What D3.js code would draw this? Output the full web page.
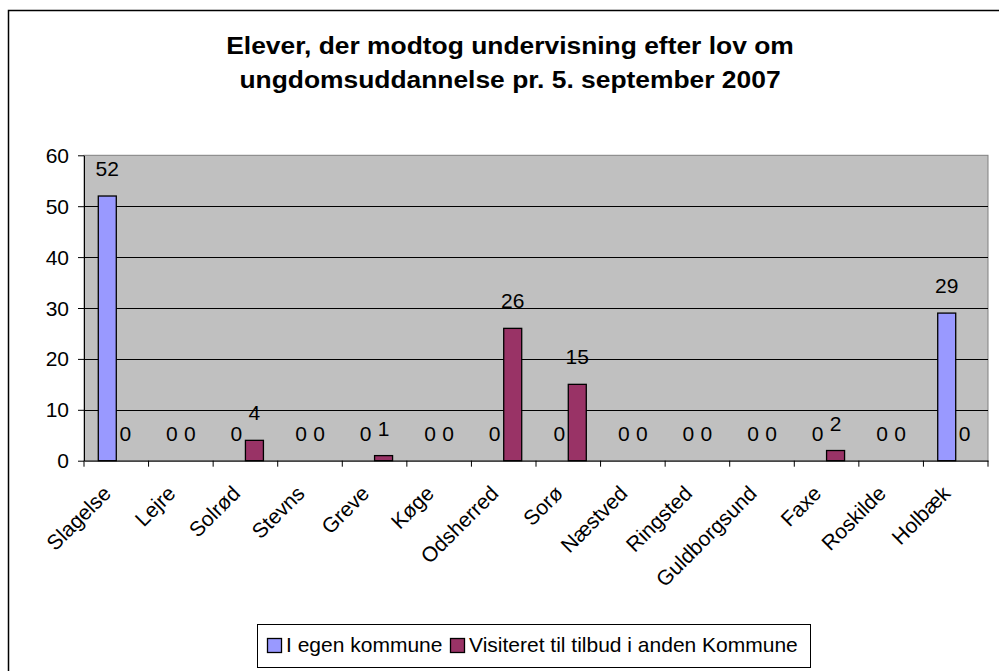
<!DOCTYPE html>
<html>
<head>
<meta charset="utf-8">
<script src="https://cdn.jsdelivr.net/npm/d3@7"></script>
<style>
  html, body { margin: 0; padding: 0; background: #fff; }
  svg { display: block; }
  text { font-family: "Liberation Sans", Arial, sans-serif; fill: #000; }
</style>
</head>
<body>
<svg id="chart" width="999" height="671"></svg>
<script>
// Kommuner langs x-aksen
const categories = ["Slagelse", "Lejre", "Solrød", "Stevns", "Greve", "Køge", "Odsherred",
  "Sorø", "Næstved", "Ringsted", "Guldborgsund", "Faxe", "Roskilde", "Holbæk"];

// Serienavne (forklaring)
const seriesNames = ["I egen kommune", "Visiteret til tilbud i anden Kommune"];

// Antal elever pr. kommune
const egenKommune  = [52, 0, 0, 0, 0, 0, 0, 0, 0, 0, 0, 0, 0, 29];
const andenKommune = [0, 0, 4, 0, 1, 0, 26, 15, 0, 0, 0, 2, 0, 0];

const yTicks = [0, 10, 20, 30, 40, 50, 60];

const titleLines = ["Elever, der modtog undervisning efter lov om",
  "ungdomsuddannelse pr. 5. september 2007"];

const colors = ["#9999FF", "#993366"];

const FS = 21;           // normal skriftstørrelse

const svg = d3.select("#chart");

// Ydre ramme om diagrammet
svg.append("rect")
  .attr("x", 8.5).attr("y", 10.5)
  .attr("width", 1000).attr("height", 700)
  .attr("fill", "#fff").attr("stroke", "#000").attr("stroke-width", 1.5);

function addText(g, str, x, y, opts = {}) {
  const sx = opts.sx || 1;
  const t = g.append("text")
    .attr("transform", `translate(${x},${y}) scale(${sx},1)` + (opts.rotate ? ` rotate(${opts.rotate})` : ""))
    .attr("font-size", opts.size || FS)
    .attr("text-anchor", opts.anchor || "start")
    .text(str);
  if (opts.bold) t.attr("font-weight", "bold");
  return t;
}

// Titel
titleLines.forEach((line, i) => {
  addText(svg, line, 510, 54 + i * 33.5, { size: 24, bold: true, anchor: "middle", sx: 1.1 });
});

// Plotområde
const plot = { left: 84, right: 988, top: 155.3, bottom: 460.7 };

const x = d3.scaleBand().domain(categories).range([plot.left, plot.right]).paddingInner(0).paddingOuter(0);
const xs = d3.scaleBand().domain(seriesNames).range([0, x.bandwidth()]).paddingInner(0).paddingOuter(0.794);
const y = d3.scaleLinear().domain([0, 60]).range([plot.bottom, plot.top]);

svg.append("rect")
  .attr("x", plot.left).attr("y", plot.top)
  .attr("width", plot.right - plot.left).attr("height", plot.bottom - plot.top)
  .attr("fill", "#C0C0C0").attr("stroke", "#808080").attr("stroke-width", 1);

// Gitterlinjer
svg.append("g")
  .selectAll("line")
  .data(yTicks.filter(v => v > 0 && v < 60))
  .join("line")
  .attr("x1", plot.left).attr("x2", plot.right)
  .attr("y1", d => Math.round(y(d)) + 0.5).attr("y2", d => Math.round(y(d)) + 0.5)
  .attr("stroke", "#000").attr("stroke-width", 1);

// Søjler
const data = [egenKommune, andenKommune];
const barG = svg.append("g");
data.forEach((vals, si) => {
  barG.selectAll(null)
    .data(vals.map((v, i) => ({ v, c: categories[i] })))
    .join("rect")
    .attr("x", d => x(d.c) + xs(seriesNames[si]))
    .attr("y", d => y(d.v))
    .attr("width", xs.bandwidth())
    .attr("height", d => y(0) - y(d.v))
    .attr("fill", colors[si])
    .attr("stroke", "#000").attr("stroke-width", 1.3);
});

// Dataetiketter
const labG = svg.append("g");
data.forEach((vals, si) => {
  vals.forEach((v, i) => {
    addText(labG, String(v), x(categories[i]) + xs(seriesNames[si]) + xs.bandwidth() / 2, y(v) - 20,
      { anchor: "middle" });
  });
});

// Y-akse
const yAxis = d3.axisLeft(y).tickValues(yTicks).tickSize(6).tickPadding(8).tickSizeOuter(0);
const yg = svg.append("g").attr("transform", `translate(${plot.left},0)`).call(yAxis);
yg.select(".domain").attr("stroke", "#000");
yg.selectAll(".tick line").attr("stroke", "#000");
yg.selectAll(".tick text").remove();
yTicks.forEach(v => addText(yg, String(v), -15, y(v) + 7.5, { anchor: "end" }));

// X-akse
const xAxis = d3.axisBottom(x).tickSize(0).tickSizeOuter(0).tickFormat("");
const xg = svg.append("g").attr("transform", `translate(0,${plot.bottom})`).call(xAxis);
xg.select(".domain").attr("stroke", "#000");
xg.selectAll(".tick").remove();
const bounds = categories.map(c => x(c)).concat([plot.right]);
xg.selectAll("line.sep")
  .data(bounds)
  .join("line").attr("class", "sep")
  .attr("x1", d => d).attr("x2", d => d)
  .attr("y1", 0).attr("y2", 6)
  .attr("stroke", "#000");
categories.forEach(c => {
  addText(xg, c, x(c) + x.bandwidth() / 2 - 4, 34, { anchor: "end", rotate: -45 });
});

// Forklaring
const leg = svg.append("g");
leg.append("rect")
  .attr("x", 257.5).attr("y", 624.5).attr("width", 553).attr("height", 43)
  .attr("fill", "#fff").attr("stroke", "#000").attr("stroke-width", 1);
const legX = [267, 450];
seriesNames.forEach((n, i) => {
  leg.append("rect")
    .attr("x", legX[i] + 0.5).attr("y", 638.5).attr("width", 14).attr("height", 14)
    .attr("fill", colors[i]).attr("stroke", "#000").attr("stroke-width", 1.3);
  addText(leg, n, legX[i] + 19, 652);
});
</script>
</body>
</html>
